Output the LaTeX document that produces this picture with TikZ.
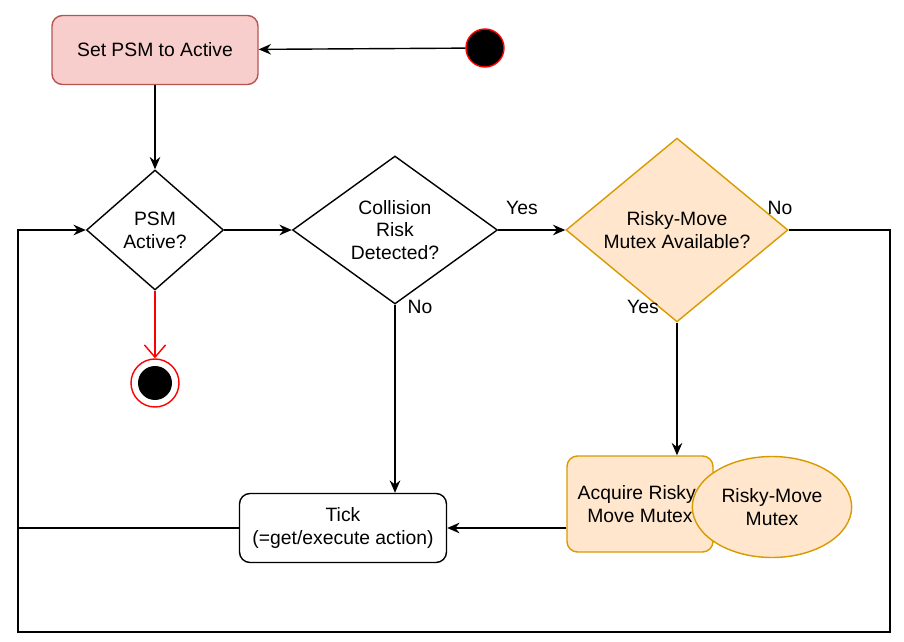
\documentclass[tikz,border=0pt]{standalone}
\usepackage{fontspec}
\setmainfont{Liberation Sans}
\usetikzlibrary{shapes.geometric,arrows.meta}
\definecolor{pinkfill}{HTML}{F8CECC}
\definecolor{pinkdraw}{HTML}{B85450}
\definecolor{orangefill}{HTML}{FFE6CC}
\definecolor{orangedraw}{HTML}{D79B00}
\begin{document}
\begin{tikzpicture}[x=0.02cm,y=-0.02cm,thick,
    font=\fontsize{11}{13}\selectfont,
    box/.style={rectangle,rounded corners=6pt,draw,align=center},
    dec/.style={diamond,draw,align=center,inner sep=0pt},
    flow/.style={-{Stealth[length=7pt,width=6pt]}},
    lbl/.style={font=\fontsize{11}{13}\selectfont}]
  \useasboundingbox (0,0) rectangle (904,642);
  \node[box,fill=pinkfill,draw=pinkdraw,minimum width=206*0.02cm,minimum height=69*0.02cm] (set) at (155,50) {Set PSM to Active};
  \node[circle,fill=black,draw=red,minimum size=38*0.02cm] (start) at (485,48) {};
  \draw[flow] (start) -- (set);
  \node[dec,minimum width=137*0.02cm,minimum height=120*0.02cm] (active) at (155,230) {PSM\\Active?};
  \draw[flow] (set) -- (active);
  \node[circle,draw=red,minimum size=48*0.02cm] (stop) at (155,383) {};
  \node[circle,fill=black,minimum size=34*0.02cm] at (stop) {};
  \draw[red,-{Straight Barb[length=7pt,width=12pt]}] (active) -- (stop);
  \node[dec,minimum width=205*0.02cm,minimum height=120*0.02cm] (risk) at (395,230) {Collision\\Risk\\Detected?};
  \draw[flow] (active) -- (risk);
  \node[dec,fill=orangefill,draw=orangedraw,minimum width=222*0.02cm,minimum height=120*0.02cm] (mutex) at (677,230) {Risky-Move\\Mutex Available?};
  \draw[flow] (risk) -- (mutex);
  \node[lbl] at (522,208) {Yes};
  \node[box,fill=orangefill,draw=orangedraw,minimum width=146*0.02cm,minimum height=96*0.02cm] (acquire) at (640,504) {Acquire Risky-\\Move Mutex};
  \node[ellipse,fill=orangefill,draw=orangedraw,minimum width=119*0.02cm,minimum height=101*0.02cm,align=center] (token) at (772,507) {Risky-Move\\Mutex};
  \draw[flow] (mutex.south) -- (mutex.south |- acquire.north);
  \node[lbl] at (643,307) {Yes};
  \node[box,minimum width=207*0.02cm,minimum height=69*0.02cm] (tick) at (343,528) {Tick\\(=get/execute action)};
  \draw[flow] (risk.south) -- (risk.south |- tick.north);
  \node[lbl] at (420,307) {No};
  \draw[flow] (acquire.west |- tick.east) -- (tick.east);
  \coordinate (loopl) at (18,528);
  \coordinate (loopr) at (890,632);
  \draw (tick.west) -- (loopl);
  \draw[flow] (mutex.east) -- (890,230) -- (loopr) -- (18,632) -- (loopl) |- (active.west);
  \node[lbl] at (780,208) {No};
\end{tikzpicture}
\end{document}
